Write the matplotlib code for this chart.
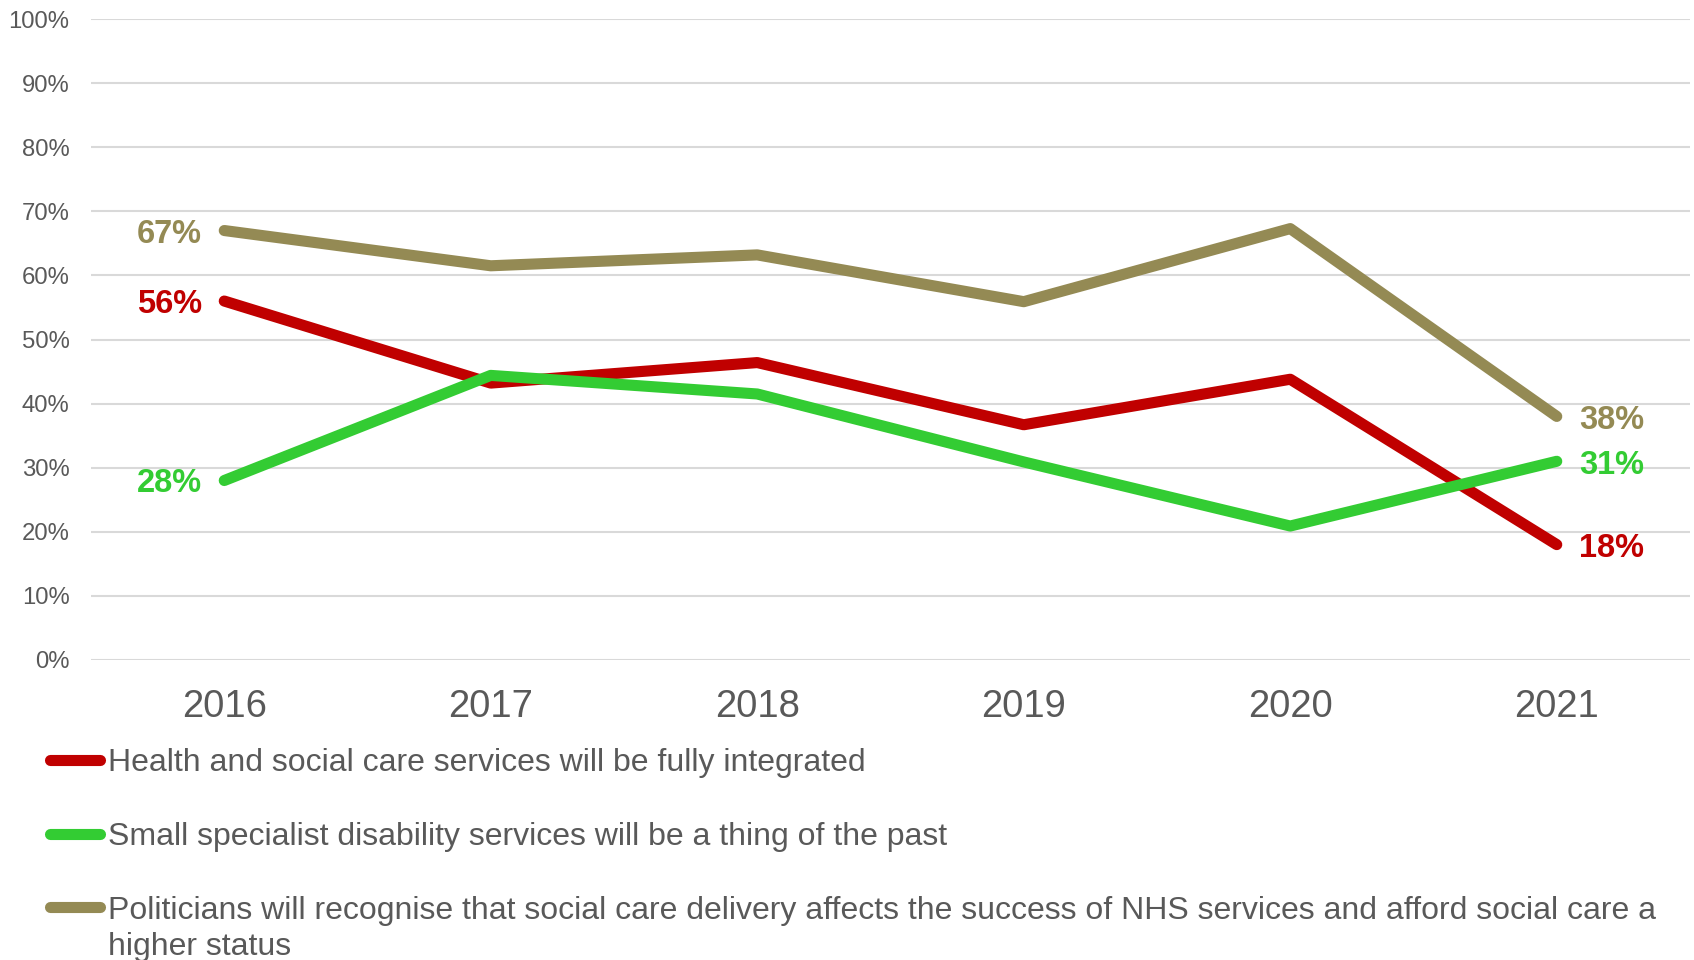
import matplotlib
matplotlib.use("Agg")
import matplotlib.pyplot as plt
from matplotlib.lines import Line2D

plt.rcParams['font.family'] = ['Liberation Sans', 'DejaVu Sans']

years = ["2016", "2017", "2018", "2019", "2020", "2021"]
integrated = [56, 43.2, 46.4, 36.7, 43.8, 18]
specialist_past = [28, 44.4, 41.5, 30.9, 20.9, 31]
politicians = [67, 61.5, 63.2, 55.9, 67.3, 38]

series_names = [
    "Health and social care services will be fully integrated",
    "Small specialist disability services will be a thing of the past",
    "Politicians will recognise that social care delivery affects the success of NHS services and afford social care a\nhigher status",
]
series_values = [integrated, specialist_past, politicians]
series_colors = ["#C00000", "#33CC33", "#948A54"]
yticks = [0, 10, 20, 30, 40, 50, 60, 70, 80, 90, 100]

DPI = 100
W, H = 1694, 960
fig = plt.figure(figsize=(W / DPI, H / DPI), dpi=DPI)
ax = fig.add_axes([91 / W, 1 - 660 / H, 1599 / W, 641 / H])

x = list(range(len(years)))
for vals, col in zip(series_values, series_colors):
    ax.plot(x, vals, color=col, lw=8, solid_capstyle='round',
            solid_joinstyle='round', zorder=3)
    # end labels
    ax.annotate(f"{round(vals[0])}%", (x[0], vals[0]), xytext=(-16, -2.5),
                textcoords='offset points', ha='right', va='center',
                color=col, fontsize=23.5, fontweight='bold')
    ax.annotate(f"{round(vals[-1])}%", (x[-1], vals[-1]), xytext=(16, -3),
                textcoords='offset points', ha='left', va='center',
                color=col, fontsize=23.5, fontweight='bold')

ax.set_xlim(-0.5, len(years) - 0.5)
ax.set_ylim(0, 100)
ax.set_xticks(x)
ax.set_xticklabels(years)
ax.set_yticks(yticks)
ax.set_yticklabels([f"{t}%" for t in yticks])
ax.tick_params(axis='y', length=0, pad=15.5, labelsize=17.2, labelcolor='#595959')
ax.tick_params(axis='x', length=0, pad=21, labelsize=27.5, labelcolor='#595959')
for s in ax.spines.values():
    s.set_visible(False)
ax.yaxis.grid(True, color='#D9D9D9', lw=1.5)
ax.set_axisbelow(True)
ax.set_facecolor('white')

# legend drawn below the axes
row_y = [760, 834, 907]
for name, col, ry in zip(series_names, series_colors, row_y):
    yf = 1 - ry / H
    fig.add_artist(Line2D([50 / W, 100 / W], [yf, yf], color=col, lw=8,
                          solid_capstyle='round', transform=fig.transFigure))
    if '\n' in name:
        fig.text(108 / W, 1 - (ry - 11) / H, name, ha='left', va='top',
                 fontsize=23, color='#595959', linespacing=1.25)
    else:
        fig.text(108 / W, 1 - (ry + 3) / H, name, ha='left', va='center',
                 fontsize=23, color='#595959')

fig.savefig("out.png", dpi=DPI, facecolor='white')
